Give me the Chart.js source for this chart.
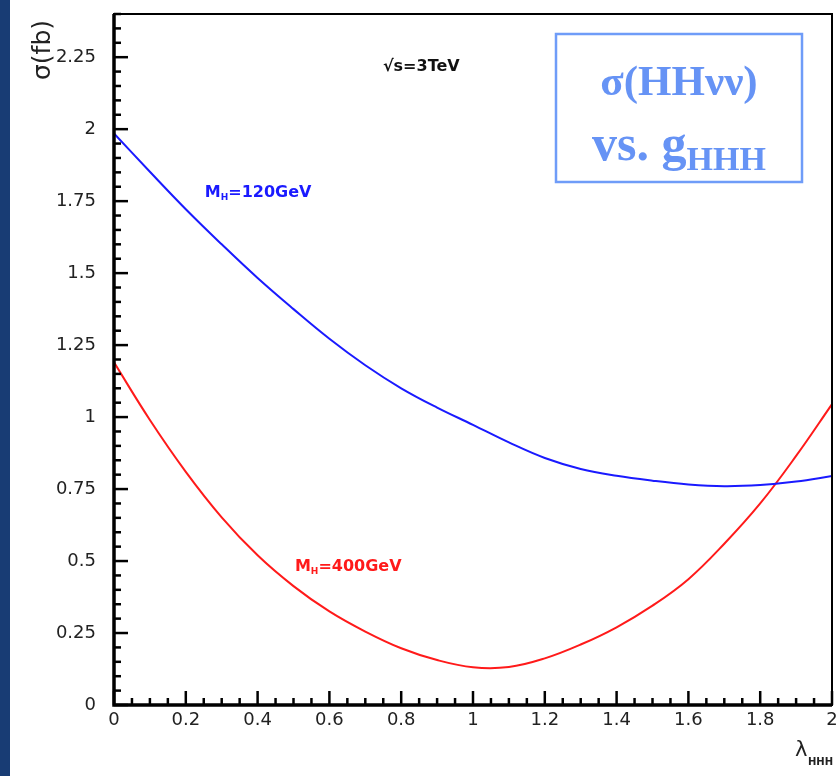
<!DOCTYPE html>
<html>
<head>
  <title>sigma(HHvv) vs g_HHH</title>
  <script src="https://cdn.jsdelivr.net/npm/chart.js"></script>
  <style>
    body { margin: 0; background: #fff; }
    .strip { position: absolute; left: 0; top: 0; width: 10px; height: 776px; background: #183c74; z-index: 2; }
    .chart-container { position: absolute; left: 0; top: 0; width: 837px; height: 776px; }
  </style>
</head>
<body>
  <div class="strip"></div>
  <div class="chart-container"><canvas id="myChart"></canvas></div>
  <script>
    // lambda_HHH (x) and cross sections in fb
    const lambdaHHH = [0, 0.1, 0.2, 0.3, 0.4, 0.5, 0.6, 0.7, 0.8, 0.9, 1.0,
                       1.1, 1.2, 1.3, 1.4, 1.5, 1.6, 1.7, 1.8, 1.9, 2.0];
    const sigmaMH120 = [1.985, 1.852, 1.722, 1.60, 1.483, 1.375, 1.272, 1.18, 1.10, 1.033, 0.973,
                        0.912, 0.858, 0.82, 0.796, 0.779, 0.766, 0.76, 0.764, 0.776, 0.795];
    const sigmaMH400 = [1.19, 0.99, 0.81, 0.652, 0.52, 0.413, 0.325, 0.255, 0.197, 0.156, 0.131,
                        0.132, 0.162, 0.21, 0.27, 0.345, 0.437, 0.56, 0.70, 0.865, 1.045];
    const xRange = [0, 2];
    const yRange = [0, 2.4];
    const xMajor = 0.2, yMajor = 0.25, minorStep = 0.05;
    const labelMH120 = { x: 0.253, y: 1.78, mass: '=120GeV' };
    const labelMH400 = { x: 0.504, y: 0.479, mass: '=400GeV' };
    const labelSqrtS = { x: 0.749, y: 2.215, text: '\u221As=3TeV' };

    const fmt = v => String(+(+v).toFixed(2));
    const pts = ys => lambdaHHH.map((l, i) => ({ x: l, y: ys[i] }));

    const decor = {
      id: 'decor',
      afterDraw(chart) {
        const { ctx, chartArea: a, scales: { x, y } } = chart;
        ctx.save();
        ctx.strokeStyle = '#000';
        ctx.lineWidth = 2.5;
        const nx = Math.round((xRange[1] - xRange[0]) / minorStep);
        for (let i = 0; i <= nx; i++) {
          const px = x.getPixelForValue(xRange[0] + i * minorStep);
          const len = i % Math.round(xMajor / minorStep) === 0 ? 14 : 7;
          ctx.beginPath(); ctx.moveTo(px, a.bottom); ctx.lineTo(px, a.bottom - len); ctx.stroke();
        }
        const ny = Math.round((yRange[1] - yRange[0]) / minorStep);
        for (let i = 0; i <= ny; i++) {
          const py = y.getPixelForValue(yRange[0] + i * minorStep);
          const len = i % Math.round(yMajor / minorStep) === 0 ? 14 : 7;
          ctx.beginPath(); ctx.moveTo(a.left, py); ctx.lineTo(a.left + len, py); ctx.stroke();
        }
        // frame
        ctx.lineWidth = 2;
        ctx.strokeRect(a.left, a.top, a.right - a.left, a.bottom - a.top);
        ctx.lineWidth = 3.5;
        ctx.beginPath();
        ctx.moveTo(a.left, a.top); ctx.lineTo(a.left, a.bottom); ctx.lineTo(a.right, a.bottom);
        ctx.stroke();

        // in-plot labels
        ctx.textBaseline = 'middle';
        ctx.textAlign = 'left';
        const massLabel = (lab, color) => {
          let px = x.getPixelForValue(lab.x), py = y.getPixelForValue(lab.y);
          ctx.fillStyle = color;
          ctx.font = 'bold 16px "DejaVu Sans"';
          ctx.fillText('M', px, py);
          px += ctx.measureText('M').width;
          ctx.font = 'bold 9px "DejaVu Sans"';
          ctx.fillText('H', px, py + 5);
          px += ctx.measureText('H').width;
          ctx.font = 'bold 16px "DejaVu Sans"';
          ctx.fillText(lab.mass, px, py);
        };
        massLabel(labelMH120, '#1a1aff');
        massLabel(labelMH400, '#ff1a1a');
        ctx.fillStyle = '#111';
        ctx.font = 'bold 16px "DejaVu Sans"';
        ctx.fillText(labelSqrtS.text, x.getPixelForValue(labelSqrtS.x), y.getPixelForValue(labelSqrtS.y));

        // axis titles
        ctx.fillStyle = '#222';
        ctx.save();
        ctx.translate(43, 50);
        ctx.rotate(-Math.PI / 2);
        ctx.textAlign = 'center';
        ctx.font = '25px "DejaVu Sans"';
        ctx.fillText('\u03C3(fb)', 0, 0);
        ctx.restore();
        ctx.textBaseline = 'alphabetic';
        ctx.font = '21px "DejaVu Sans"';
        ctx.fillText('\u03BB', 795, 756);
        ctx.font = 'bold 10px "DejaVu Sans"';
        ctx.fillText('HHH', 808, 765);

        // title box
        ctx.fillStyle = '#fff';
        ctx.fillRect(555, 33, 248, 150);
        ctx.strokeStyle = '#6f9cf8';
        ctx.lineWidth = 2.5;
        ctx.strokeRect(556, 34, 246, 148);
        ctx.fillStyle = '#6693f5';
        ctx.textAlign = 'center';
        ctx.font = 'bold 43px "Liberation Serif"';
        ctx.fillText('\u03C3(HH\u03BD\u03BD)', 679, 95);
        ctx.textAlign = 'left';
        ctx.font = 'bold 50px "Liberation Serif"';
        const w1 = ctx.measureText('vs. g').width;
        ctx.font = 'bold 34px "Liberation Serif"';
        const w2 = ctx.measureText('HHH').width;
        const x0 = 679 - (w1 + w2) / 2;
        ctx.font = 'bold 50px "Liberation Serif"';
        ctx.fillText('vs. g', x0, 160);
        ctx.font = 'bold 34px "Liberation Serif"';
        ctx.fillText('HHH', x0 + w1, 170);
        ctx.restore();
      }
    };

    new Chart(document.getElementById('myChart').getContext('2d'), {
      type: 'line',
      data: {
        datasets: [
          { label: 'MH=120GeV', data: pts(sigmaMH120), borderColor: '#1a1aff', borderWidth: 2,
            pointRadius: 0, tension: 0.4, fill: false },
          { label: 'MH=400GeV', data: pts(sigmaMH400), borderColor: '#ff1a1a', borderWidth: 2,
            pointRadius: 0, tension: 0.4, fill: false }
        ]
      },
      options: {
        animation: false,
        responsive: true,
        maintainAspectRatio: false,
        layout: { padding: { top: 14, right: 5, left: 0, bottom: 0 } },
        plugins: { legend: { display: false }, tooltip: { enabled: false } },
        scales: {
          x: {
            type: 'linear', min: xRange[0], max: xRange[1],
            grid: { display: false, drawTicks: false }, border: { display: false },
            ticks: { stepSize: xMajor, autoSkip: false, maxRotation: 0, includeBounds: false,
                     padding: 5, color: '#222', font: { family: 'DejaVu Sans', size: 18 }, callback: fmt },
            afterFit(s) { s.height = 71; s.paddingLeft = 0; s.paddingRight = 0; }
          },
          y: {
            type: 'linear', min: yRange[0], max: yRange[1],
            grid: { display: false, drawTicks: false }, border: { display: false },
            ticks: { stepSize: yMajor, autoSkip: false, includeBounds: false,
                     padding: 18, color: '#222', font: { family: 'DejaVu Sans', size: 18 }, callback: fmt },
            afterFit(s) { s.width = 114; s.paddingTop = 0; s.paddingBottom = 0; }
          }
        }
      },
      plugins: [decor]
    });
  </script>
</body>
</html>
